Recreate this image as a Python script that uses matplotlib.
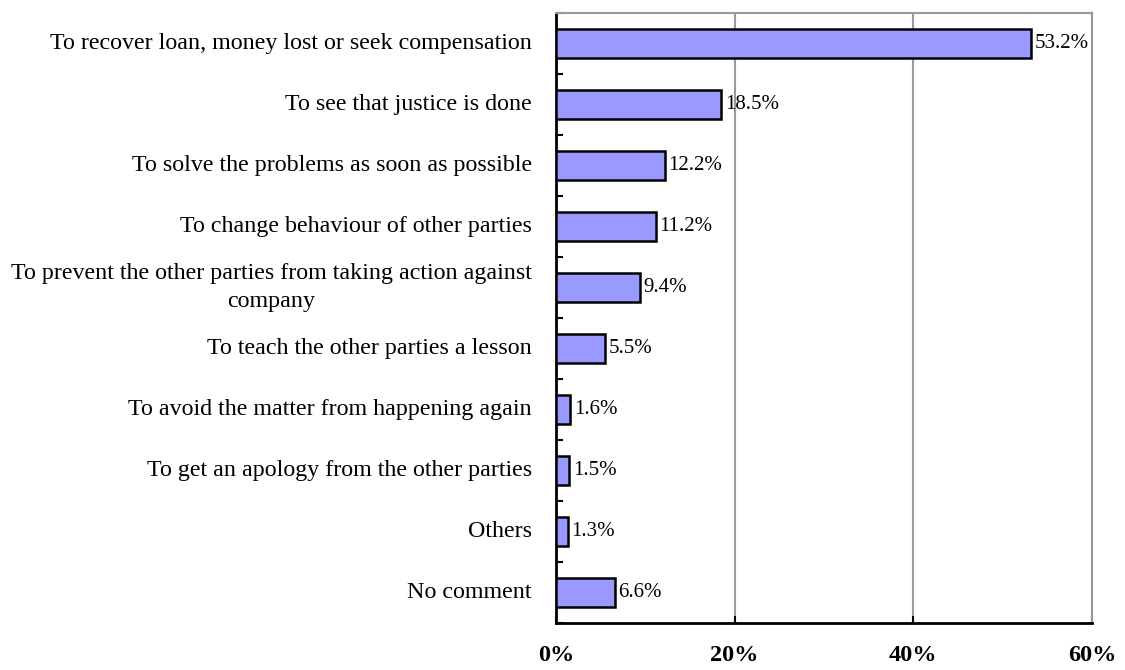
import numpy as np
import matplotlib.pyplot as plt

plt.rcParams['font.family'] = ['Liberation Serif', 'DejaVu Serif']

categories = [
    "To recover loan, money lost or seek compensation",
    "To see that justice is done",
    "To solve the problems as soon as possible",
    "To change behaviour of other parties",
    "To prevent the other parties from taking action against\ncompany",
    "To teach the other parties a lesson",
    "To avoid the matter from happening again",
    "To get an apology from the other parties",
    "Others",
    "No comment",
]
values = [53.2, 18.5, 12.2, 11.2, 9.4, 5.5, 1.6, 1.5, 1.3, 6.6]
xticks = [0, 20, 40, 60]

fig = plt.figure(figsize=(11.25, 6.7), dpi=100)
ax = fig.add_axes([556 / 1125, 1 - 623 / 670, (1092 - 556) / 1125, (623 - 13) / 670])

n = len(categories)
y = np.arange(n)
ax.barh(y, values, height=0.47, color='#9999FF', edgecolor='black', linewidth=1.8, zorder=3)
for yi, v in zip(y, values):
    ax.text(v + 0.4, yi, '{:.1f}%'.format(v), va='center', ha='left', fontsize=15, zorder=4)

ax.set_xlim(0, 60)
ax.set_ylim(n - 0.5, -0.5)
ax.set_xticks(xticks)
ax.set_xticklabels(['{}%'.format(t) for t in xticks], fontsize=17.5, fontweight='bold')
ax.tick_params(axis='x', direction='in', length=5, width=1.5, pad=16)
ax.xaxis.grid(True, color='#999999', linewidth=1.5, zorder=0)

# category labels at bar centres, tick marks at boundaries
ax.set_yticks(np.arange(n + 1) - 0.5)
ax.set_yticklabels([])
ax.tick_params(axis='y', direction='in', length=5, width=1.5)
for yi, c in zip(y, categories):
    ax.text(-0.045, yi, c, transform=ax.get_yaxis_transform(), ha='right', multialignment='center',
            va='center', fontsize=17.3, linespacing=1.5)

for s in ['left', 'bottom']:
    ax.spines[s].set_linewidth(2)
    ax.spines[s].set_color('black')
for s in ['top', 'right']:
    ax.spines[s].set_linewidth(1.5)
    ax.spines[s].set_color('#999999')

fig.savefig('out.png', dpi=100)
